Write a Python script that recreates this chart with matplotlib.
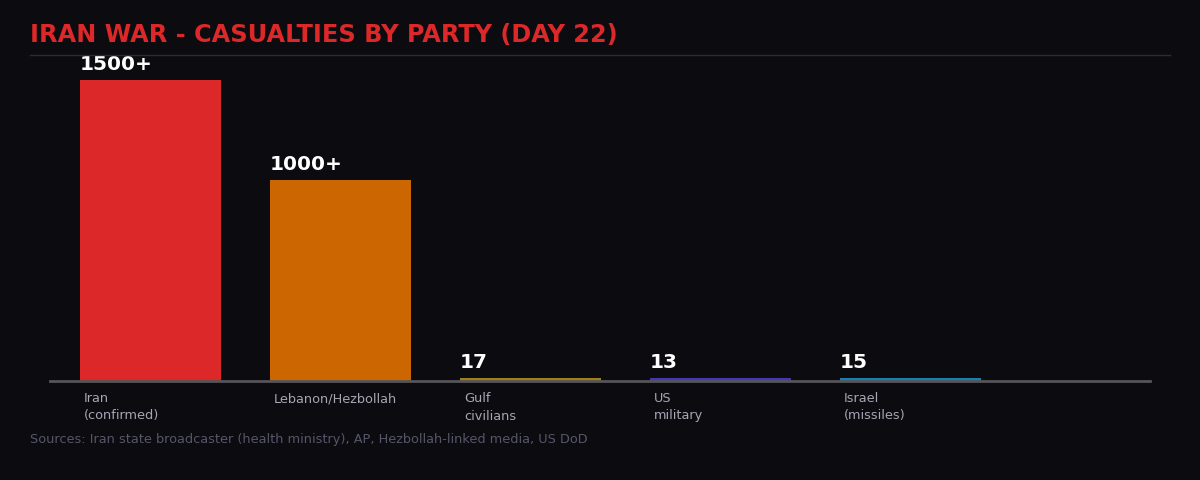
import matplotlib.pyplot as plt
from matplotlib.lines import Line2D

categories = ['Iran\n(confirmed)', 'Lebanon/Hezbollah', 'Gulf\ncivilians', 'US\nmilitary', 'Israel\n(missiles)']
values = [1500, 1000, 17, 13, 15]
value_labels = ['1500+', '1000+', '17', '13', '15']
colors = ['#dc2828', '#cc6600', '#a08018', '#4338b0', '#1a7fb0']

bg = '#0b0b10'
W, H = 1200, 480

fig = plt.figure(figsize=(12, 4.8), dpi=100, facecolor=bg)
# axes: baseline at y=381px, top of tallest bar at y=80px, x from 50 to 1150
ax = fig.add_axes([50 / W, (H - 381) / H, 1100 / W, 301 / H], facecolor=bg)

width = 141 / 190
x = list(range(len(values)))
ax.bar(x, values, width=width, color=colors, zorder=2)
ax.set_xlim(-100.5 / 190, -100.5 / 190 + 1100 / 190)
ax.set_ylim(0, 1500)

for s in ['top', 'right', 'left']:
    ax.spines[s].set_visible(False)
ax.spines['bottom'].set_color('#55555a')
ax.spines['bottom'].set_linewidth(2)
ax.spines['bottom'].set_zorder(3)
ax.set_xticks([])
ax.set_yticks([])

for i, v in enumerate(values):
    ax.annotate(value_labels[i], (i - width / 2, v), xytext=(0, 6), textcoords='offset pixels',
                ha='left', va='bottom', color='white', fontsize=14.5, fontweight='bold',
                annotation_clip=False)
    ax.annotate(categories[i], (i - width / 2, 0), xycoords=('data', 'axes fraction'),
                xytext=(4, -11), textcoords='offset pixels', ha='left', va='top',
                color='#a6a6b4', fontsize=9.3, linespacing=1.45, annotation_clip=False)

fig.text(30 / W, 1 - 35 / H, 'IRAN WAR - CASUALTIES BY PARTY (DAY 22)', color='#dc2828',
         fontsize=17.3, fontweight='bold', ha='left', va='center')
fig.add_artist(Line2D([30 / W, 1170 / W], [1 - 55 / H, 1 - 55 / H], color='#2c2c34', linewidth=1))
fig.text(30 / W, 1 - 439 / H,
         'Sources: Iran state broadcaster (health ministry), AP, Hezbollah-linked media, US DoD',
         color='#56566a', fontsize=9.3, ha='left', va='center')

plt.savefig('out.png', dpi=100, facecolor=bg)
